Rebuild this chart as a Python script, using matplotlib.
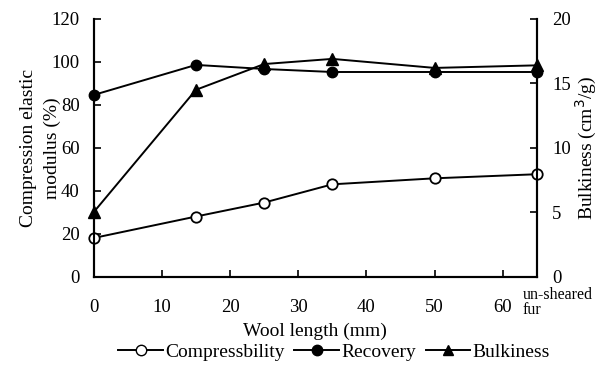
import matplotlib
matplotlib.use("Agg")
import matplotlib.pyplot as plt
from matplotlib.lines import Line2D

plt.rcParams['font.family'] = ['Liberation Serif', 'DejaVu Serif']

x = [0, 15, 25, 35, 50, 65]
compressibility = [18, 28, 34.5, 43, 45.8, 47.7]
recovery = [84.6, 98.6, 96.7, 95.3, 95.3, 95.3]
bulkiness = [5.0, 14.5, 16.5, 16.9, 16.2, 16.4]
xticks = [0, 10, 20, 30, 40, 50, 60]
yticks_left = [0, 20, 40, 60, 80, 100, 120]
yticks_right = [0, 5, 10, 15, 20]

fig = plt.figure(figsize=(6.04, 3.79), dpi=100)
ax = fig.add_axes([0.155, 0.270, 0.734, 0.680])
ax2 = ax.twinx()

lw = 1.4
ms = 7.5
ax.plot(x, compressibility, color='black', lw=lw, marker='o', ms=ms,
        mfc='white', mec='black', mew=1.3, clip_on=False, zorder=5)
ax.plot(x, recovery, color='black', lw=lw, marker='o', ms=ms,
        mfc='black', mec='black', clip_on=False, zorder=5)
ax2.plot(x, bulkiness, color='black', lw=lw, marker='^', ms=ms + 0.5,
         mfc='black', mec='black', clip_on=False, zorder=5)

ax.set_xlim(0, 65)
ax.set_ylim(0, 120)
ax2.set_ylim(0, 20)
ax.set_xticks(xticks)
ax.set_yticks(yticks_left)
ax2.set_yticks(yticks_right)

for a in (ax, ax2):
    a.spines['top'].set_visible(False)
    for s in a.spines.values():
        s.set_linewidth(1.5)
ax.tick_params(axis='x', direction='in', length=5, width=1.2, labelsize=13.5, pad=16)
ax.tick_params(axis='y', direction='in', length=5, width=1.2, labelsize=13.5, pad=10)
ax2.tick_params(axis='y', direction='in', length=5, width=1.2, labelsize=13.5, pad=11)

ax.set_ylabel('Compression elastic\nmodulus (%)', fontsize=14, linespacing=1.5)
ax.yaxis.set_label_coords(-0.074, 0.5)
ax2.set_ylabel('Bulkiness (cm$^3$/g)', fontsize=14)
ax2.yaxis.set_label_coords(1.083, 0.5)
ax.set_xlabel('Wool length (mm)', fontsize=14, labelpad=5)

fig.text(523 / 604, 1 - 287 / 379, 'un-sheared\nfur', fontsize=11.5, ha='left',
         va='top', linespacing=0.95)

handles = [
    Line2D([], [], color='black', lw=lw, marker='o', ms=ms, mfc='white', mec='black'),
    Line2D([], [], color='black', lw=lw, marker='o', ms=ms, mfc='black'),
    Line2D([], [], color='black', lw=lw, marker='^', ms=ms, mfc='black'),
]
fig.legend(handles, ['Compressbility', 'Recovery', 'Bulkiness'],
           loc='center', bbox_to_anchor=(0.553, 0.072), ncol=3, frameon=False,
           fontsize=14, handlelength=2.3, handletextpad=0.1, columnspacing=0.5)

fig.savefig('out.png', dpi=100)
